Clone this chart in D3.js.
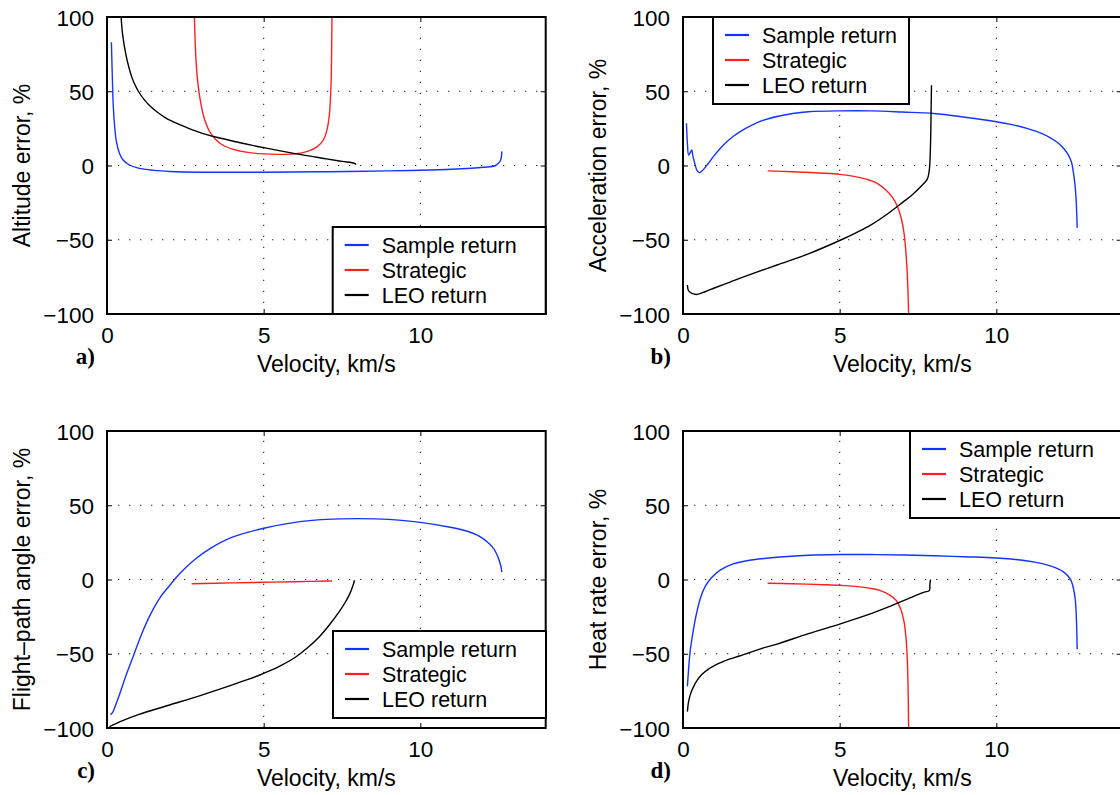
<!DOCTYPE html>
<html>
<head>
<meta charset="utf-8">
<script src="https://cdn.jsdelivr.net/npm/d3@7"></script>
<style>
  html, body { margin: 0; padding: 0; background: #fff; }
  svg { display: block; }
  text { font-family: "Liberation Sans", Arial, Helvetica, sans-serif; fill: #000; }
</style>
</head>
<body>
<svg id="chart" width="1120" height="795"></svg>
<script>
// ---------------- DATA ----------------
const seriesNames = ["Sample return", "Strategic", "LEO return"];
const xTicks = [0, 5, 10];
const yTicks = [-100, -50, 0, 50, 100];
const xDomain = [0, 14];
const yDomain = [-100, 100];
const xLabel = "Velocity, km/s";
const yLabels = ["Altitude error, %", "Acceleration error, %", "Flight\u2013path angle error, %", "Heat rate error, %"];
const panelLabels = ["a)", "b)", "c)", "d)"];

// a) Altitude error
const altitudeSample = [[0.14,83],[0.17,60],[0.2,40],[0.25,25],[0.3,16],[0.4,8],[0.5,4],[0.7,0.5],[1.0,-1.8],[1.5,-3.3],[2,-4],[3,-4.5],[5,-4.5],[7,-4.2],[9,-3.6],[10,-3.2],[11,-2.5],[12,-1.2],[12.4,0],[12.55,3],[12.6,9.5]];
const altitudeStrategic = [[2.79,100],[2.82,80],[2.87,62],[2.96,46],[3.1,32],[3.3,22],[3.6,15],[4,11],[4.5,8.8],[5,7.8],[5.5,7.5],[6,7.8],[6.4,9.5],[6.7,12.5],[6.9,17],[7.02,24],[7.1,35],[7.15,55],[7.17,80],[7.18,100]];
const altitudeLeo = [[0.45,100],[0.5,88],[0.6,75],[0.7,66],[0.8,59],[0.9,54],[1.0,50],[1.2,44],[1.4,39.5],[1.6,36],[1.8,33],[2.0,30.5],[2.5,26],[3,22],[3.5,19],[4,16.5],[5,12],[6,8],[7,4.5],[7.5,2.8],[7.9,1.5],[7.95,0.7]];

// b) Acceleration error
const accelSample = [[0.11,28.5],[0.14,15],[0.18,7],[0.24,9],[0.28,10.5],[0.31,7],[0.38,1],[0.45,-3.5],[0.52,-4.8],[0.6,-3.8],[0.7,-1.5],[0.8,1.2],[0.9,4],[1.0,6.8],[1.2,11.8],[1.4,16],[1.6,19.5],[1.8,22.5],[2,25],[2.5,30],[3,33],[3.5,35],[4,36.2],[5,36.8],[6,36.8],[7,36],[8,35],[9,32.5],[10,29.5],[10.5,27.5],[11,24.8],[11.4,22],[11.7,19],[11.95,15.5],[12.15,11.5],[12.3,7],[12.4,2],[12.46,-5],[12.51,-13],[12.55,-25],[12.58,-42]];
const accelStrategic = [[2.7,-3.6],[3.5,-4.2],[4.5,-5.2],[5,-6],[5.5,-7.5],[5.9,-9.5],[6.2,-12],[6.5,-17],[6.7,-22],[6.85,-28],[6.97,-36],[7.05,-45],[7.1,-55],[7.15,-70],[7.18,-85],[7.2,-100]];
const accelLeo = [[0.14,-80.5],[0.18,-84.5],[0.3,-86.3],[0.45,-86.8],[0.7,-85],[1,-82.5],[1.5,-78.5],[2,-74.5],[3,-67],[4,-59.5],[5,-50.5],[5.5,-45.5],[6,-40],[6.5,-33],[7,-25],[7.3,-20],[7.6,-14],[7.8,-9],[7.86,-3],[7.89,8],[7.91,25],[7.92,40],[7.93,54]];

// c) Flight-path angle error
const fpaSample = [[0.11,-91],[0.18,-89.5],[0.25,-86],[0.4,-77.5],[0.6,-65],[0.85,-51],[1.1,-37],[1.4,-23],[1.7,-12],[2,-4],[2.3,3.5],[2.8,13.5],[3.3,21],[4,28.5],[5,34.5],[6,38.5],[7,40.5],[8,41],[9,40.5],[10,38.5],[11,35],[11.5,32.5],[11.8,30],[12,27.5],[12.2,24],[12.35,20.5],[12.45,16.5],[12.53,12],[12.58,8],[12.6,5]];
const fpaStrategic = [[2.7,-2.9],[4,-2.3],[5,-1.9],[6,-1.5],[7.18,-1.0]];
const fpaLeo = [[0.08,-99],[0.5,-95],[1,-91],[2,-84.5],[3,-78],[4,-71],[4.5,-67.3],[5,-63.2],[5.5,-58.5],[6,-52.5],[6.4,-46],[6.8,-38],[7.1,-30.5],[7.4,-22],[7.6,-15.5],[7.75,-9.5],[7.85,-4],[7.9,-0.5]];

// d) Heat rate error
const heatSample = [[0.14,-72],[0.18,-60],[0.23,-48],[0.3,-38],[0.4,-26],[0.55,-13],[0.7,-5],[0.9,1],[1.2,6.5],[1.6,10.5],[2,12.5],[3,15],[4,16.3],[5,16.8],[6,16.8],[7,16.5],[8,16],[9,15.3],[10,14.5],[11,12.5],[11.5,10.5],[11.9,7.8],[12.15,5],[12.3,2],[12.4,-1.5],[12.47,-7],[12.52,-14],[12.55,-24],[12.58,-47]];
const heatStrategic = [[2.7,-2.5],[3.5,-2.9],[4.5,-3.5],[5,-3.9],[5.5,-4.6],[6,-6],[6.3,-7.5],[6.6,-10.5],[6.8,-14],[6.95,-20],[7.05,-28],[7.12,-40],[7.16,-55],[7.18,-70],[7.2,-100]];
const heatLeo = [[0.14,-89],[0.18,-82],[0.25,-76.5],[0.33,-72.5],[0.45,-68],[0.6,-64],[0.8,-60.5],[1.0,-58],[1.2,-56],[1.5,-53.5],[1.8,-51.5],[2.5,-46.5],[3,-43.5],[4,-36.5],[5,-30],[6,-23],[6.5,-19],[7,-14.5],[7.4,-11],[7.7,-8.5],[7.86,-7.5],[7.88,-3],[7.9,0]];

// ---------------- LAYOUT / STYLE ----------------
const colors = ["#1433ff", "#ff1f1f", "#000000"];
const panels = [
  { left: 107, top: 17, series: [altitudeSample, altitudeStrategic, altitudeLeo], legend: { corner: "br" } },
  { left: 683, top: 17, series: [accelSample, accelStrategic, accelLeo], legend: { x: 713, y: 17, w: 196 } },
  { left: 107, top: 431, series: [fpaSample, fpaStrategic, fpaLeo], legend: { x: 333, y: 631, w: 213 } },
  { left: 683, top: 431, series: [heatSample, heatStrategic, heatLeo], legend: { x: 910, y: 431, w: 212 } }
];
const W = 438.7, H = 297;

const svg = d3.select("#chart");

panels.forEach((p, i) => {
  const x = d3.scaleLinear().domain(xDomain).range([p.left, p.left + W]);
  const y = d3.scaleLinear().domain(yDomain).range([p.top + H, p.top]);
  const g = svg.append("g");

  g.append("rect").attr("x", p.left).attr("y", p.top).attr("width", W).attr("height", H).attr("fill", "#fff");

  const grid = g.append("g").attr("stroke", "#222").attr("stroke-width", 1.1).attr("stroke-dasharray", "1.3,9.7");
  xTicks.filter(t => t > xDomain[0] && t < xDomain[1]).forEach(t => {
    grid.append("line").attr("x1", x(t)).attr("x2", x(t)).attr("y1", p.top + H).attr("y2", p.top);
  });
  yTicks.filter(t => t > yDomain[0] && t < yDomain[1]).forEach(t => {
    grid.append("line").attr("x1", p.left).attr("x2", p.left + W).attr("y1", y(t)).attr("y2", y(t));
  });

  const cid = "clip" + i;
  svg.append("clipPath").attr("id", cid).append("rect")
    .attr("x", p.left).attr("y", p.top).attr("width", W).attr("height", H);

  const line = d3.line().x(d => x(d[0])).y(d => y(d[1])).curve(d3.curveCatmullRom.alpha(0.5));
  const lg = g.append("g").attr("clip-path", `url(#${cid})`);
  p.series.forEach((s, k) => {
    lg.append("path").datum(s).attr("d", line).attr("fill", "none")
      .attr("stroke", colors[k]).attr("stroke-width", 1.4).attr("stroke-linejoin", "round");
  });

  const xAxis = d3.axisBottom(x).tickValues(xTicks).tickSize(-5).tickPadding(13).tickFormat(d3.format("d"));
  const yAxis = d3.axisLeft(y).tickValues(yTicks).tickSize(-5).tickPadding(13)
    .tickFormat(d => d < 0 ? "\u2212" + Math.abs(d) : String(d));
  const xa = g.append("g").attr("transform", `translate(0,${p.top + H})`).call(xAxis);
  const ya = g.append("g").attr("transform", `translate(${p.left},0)`).call(yAxis);
  [xa, ya].forEach(a => {
    a.select(".domain").remove();
    a.selectAll(".tick line").attr("stroke", "#000").attr("stroke-width", 1);
    a.selectAll("text").attr("font-size", 22.5).attr("fill", "#000")
      .attr("font-family", "'Liberation Sans', Arial, sans-serif");
  });
  xa.selectAll("text").attr("dy", "0.71em");
  ya.selectAll("text").attr("dy", "0.36em");
  const xt = g.append("g").attr("transform", `translate(0,${p.top})`)
    .call(d3.axisTop(x).tickValues(xTicks).tickSize(-5).tickFormat(""));
  const yr = g.append("g").attr("transform", `translate(${p.left + W},0)`)
    .call(d3.axisRight(y).tickValues(yTicks).tickSize(-5).tickFormat(""));
  [xt, yr].forEach(a => { a.select(".domain").remove(); a.selectAll(".tick line").attr("stroke", "#000"); });

  g.append("rect").attr("x", p.left).attr("y", p.top).attr("width", W).attr("height", H)
    .attr("fill", "none").attr("stroke", "#000").attr("stroke-width", 2);

  g.append("text").attr("x", p.left + W / 2).attr("y", p.top + H + 58)
    .attr("text-anchor", "middle").attr("font-size", 23).text(xLabel);
  g.append("text").attr("transform", `translate(${p.left - 77},${p.top + H / 2}) rotate(-90)`)
    .attr("text-anchor", "middle").attr("font-size", 23).text(yLabels[i]);
  g.append("text").attr("x", p.left - 12).attr("y", p.top + H + 50)
    .attr("text-anchor", "end").attr("font-size", 23).attr("font-weight", "bold")
    .style("font-family", "'Liberation Serif', 'Times New Roman', serif").text(panelLabels[i]);

  const LH = 87;
  let lx, ly, lw;
  if (p.legend.corner === "br") { lw = 213; lx = p.left + W - lw; ly = p.top + H - LH; }
  else { lx = p.legend.x; ly = p.legend.y; lw = p.legend.w; }
  const leg = g.append("g");
  leg.append("rect").attr("x", lx).attr("y", ly).attr("width", lw).attr("height", LH)
    .attr("fill", "#fff").attr("stroke", "#000").attr("stroke-width", 2);
  seriesNames.forEach((n, k) => {
    const cy = ly + 18 + k * 25;
    leg.append("line").attr("x1", lx + 12).attr("x2", lx + 36).attr("y1", cy).attr("y2", cy)
      .attr("stroke", colors[k]).attr("stroke-width", 2.2);
    leg.append("text").attr("x", lx + 49).attr("y", cy).attr("dy", "0.36em")
      .attr("font-size", 21.5).text(n);
  });
});
</script>
</body>
</html>
